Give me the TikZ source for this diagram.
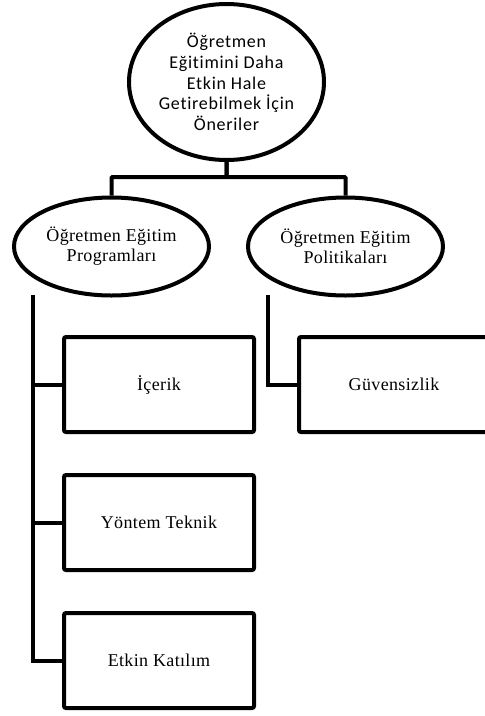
\documentclass[tikz,border=0pt]{standalone}
\usepackage{fontspec}
\setmainfont{Liberation Serif}[LetterSpace=2]
\newfontfamily\carlito{Carlito}[Ligatures=NoCommon, LetterSpace=4]
\usetikzlibrary{positioning,shapes.geometric}

\begin{document}
\begin{tikzpicture}[node distance=1.8cm, on grid, line width=4pt,
  oval/.style={draw, ellipse, inner sep=0pt, align=center, minimum width=195pt, minimum height=98pt, font=\fontsize{18}{20}\selectfont},
  box/.style={draw, rounded corners=2pt, align=center, inner sep=0pt, minimum width=190pt, minimum height=95pt, font=\fontsize{18}{20}\selectfont}]
\useasboundingbox (0,0) rectangle (485pt,-716pt);
\node[oval, minimum height=156pt, font=\carlito\fontsize{18}{20.7}\selectfont] (oneri) at (226.5pt,-82pt) {Öğretmen\\Eğitimini Daha\\Etkin Hale\\Getirebilmek İçin\\Öneriler};
\node[oval, below left=164.5pt and 115pt of oneri] (prog) {Öğretmen Eğitim\\Programları};
\node[oval, right=234pt of prog] (polit) {Öğretmen Eğitim\\Politikaları};
\node[box, below=138pt of prog, xshift=47.5pt] (icerik) {İçerik};
\node[box, below=138pt of icerik] (yontem) {Yöntem Teknik};
\node[box, below=138pt of yontem] (katilim) {Etkin Katılım};
\node[box, right=235pt of icerik] (guven) {Güvensizlik};

\coordinate (progline) at (33pt,-295pt);
\coordinate (politline) at (268pt,-295pt);

\draw[rounded corners=1pt] (oneri.south) -- ++(0,-15pt) -| (prog.north);
\draw[rounded corners=1pt] (oneri.south) -- ++(0,-15pt) -| (polit.north);
\draw (progline) |- (katilim.west);
\draw (progline |- icerik.west) -- (icerik.west);
\draw (progline |- yontem.west) -- (yontem.west);
\draw (politline) |- (guven.west);
\end{tikzpicture}
\end{document}
